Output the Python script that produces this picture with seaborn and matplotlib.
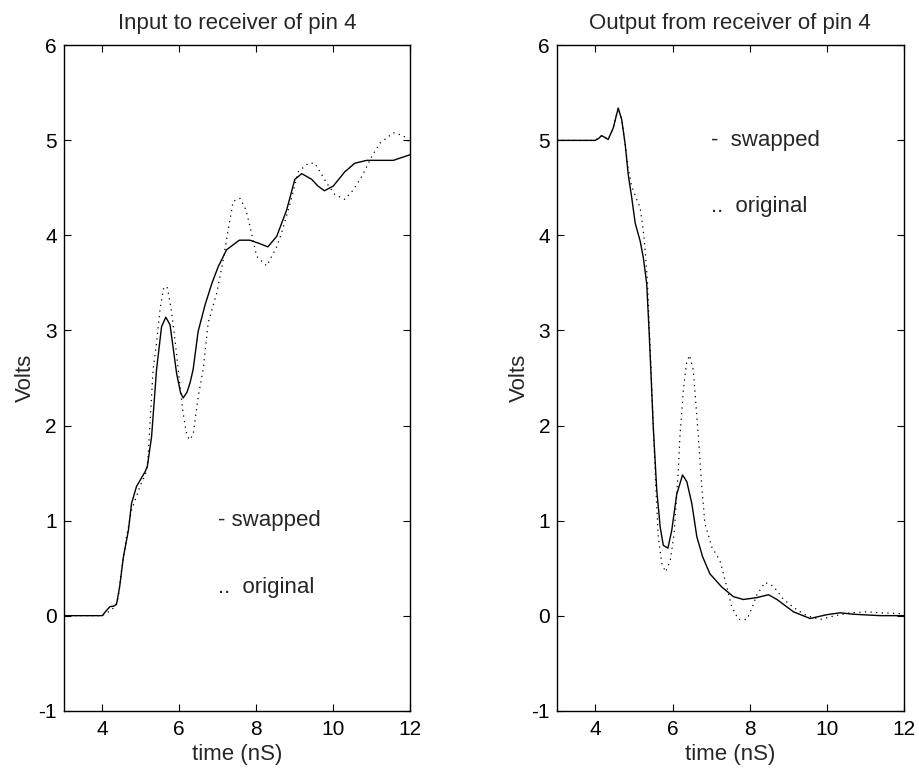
import matplotlib
matplotlib.use("Agg")
import matplotlib.pyplot as plt
import seaborn as sns

# ---- data ----
in_swapped_t = [3.0, 4.0, 4.1, 4.2, 4.3, 4.37, 4.45, 4.55, 4.68, 4.76, 4.89, 5.02, 5.12, 5.17, 5.28,
                5.41, 5.54, 5.65, 5.76, 5.93, 6.03, 6.10, 6.2, 6.28, 6.36, 6.49, 6.67, 6.85, 7.01,
                7.23, 7.56, 7.83, 8.05, 8.30, 8.53, 8.79, 9.0, 9.18, 9.44, 9.6, 9.77, 10.0, 10.30,
                10.56, 10.87, 11.2, 11.56, 12.0]
in_swapped_v = [0.0, 0.0, 0.05, 0.095, 0.1, 0.12, 0.3, 0.62, 0.9, 1.18, 1.36, 1.45, 1.52, 1.57, 1.88,
                2.59, 3.04, 3.14, 3.06, 2.55, 2.35, 2.29, 2.35, 2.45, 2.59, 2.99, 3.27, 3.5, 3.67,
                3.85, 3.95, 3.95, 3.92, 3.88, 3.99, 4.27, 4.59, 4.65, 4.59, 4.52, 4.47, 4.52, 4.67,
                4.76, 4.79, 4.79, 4.79, 4.85]

in_original_t = [3.0, 4.0, 4.2, 4.35, 4.42, 4.5, 4.63, 4.76, 4.98, 5.13, 5.18, 5.32, 5.41, 5.5, 5.60,
                 5.69, 5.78, 5.89, 5.97, 6.1, 6.18, 6.26, 6.36, 6.49, 6.62, 6.75, 6.97, 7.14, 7.27,
                 7.40, 7.58, 7.73, 7.84, 8.01, 8.27, 8.53, 8.66, 8.88, 9.09, 9.35, 9.52, 9.83, 10.04,
                 10.30, 10.52, 10.74, 11.0, 11.21, 11.56, 11.82, 12.0]
in_original_v = [0.0, 0.0, 0.05, 0.1, 0.2, 0.48, 0.83, 1.11, 1.36, 1.5, 1.6, 2.59, 2.87, 3.22, 3.46,
                 3.45, 3.25, 2.90, 2.59, 2.13, 1.93, 1.85, 1.9, 2.3, 2.59, 3.08, 3.39, 3.74, 4.06,
                 4.36, 4.39, 4.27, 4.09, 3.78, 3.68, 3.88, 4.03, 4.34, 4.67, 4.76, 4.76, 4.55, 4.43,
                 4.38, 4.48, 4.62, 4.83, 4.97, 5.08, 5.05, 4.97]

out_swapped_t = [3.0, 3.99, 4.08, 4.16, 4.25, 4.33, 4.46, 4.59, 4.68, 4.77, 4.85, 4.94, 5.03, 5.16,
                 5.24, 5.33, 5.39, 5.44, 5.50, 5.59, 5.68, 5.76, 5.88, 5.98, 6.11, 6.26, 6.37, 6.50,
                 6.63, 6.78, 6.97, 7.28, 7.58, 7.84, 8.19, 8.49, 8.71, 9.14, 9.57, 10.0, 10.35,
                 10.69, 11.39, 12.0]
out_swapped_v = [5.0, 5.0, 5.02, 5.05, 5.03, 5.01, 5.13, 5.34, 5.22, 4.96, 4.64, 4.40, 4.13, 3.94,
                 3.77, 3.49, 3.0, 2.55, 1.98, 1.32, 0.93, 0.74, 0.71, 0.90, 1.28, 1.48, 1.41, 1.18,
                 0.83, 0.62, 0.44, 0.30, 0.20, 0.17, 0.19, 0.22, 0.17, 0.04, -0.03, 0.01, 0.03,
                 0.015, 0.0, 0.0]

out_original_t = [3.0, 3.99, 4.16, 4.33, 4.46, 4.59, 4.68, 4.77, 4.85, 4.94, 5.03, 5.16, 5.24, 5.29,
                  5.35, 5.40, 5.45, 5.5, 5.56, 5.63, 5.72, 5.82, 5.94, 6.04, 6.15, 6.19, 6.28, 6.36,
                  6.44, 6.54, 6.67, 6.76, 6.84, 7.02, 7.23, 7.41, 7.54, 7.71, 7.93, 8.06, 8.19, 8.40,
                  8.62, 8.88, 9.23, 9.49, 9.83, 10.22, 10.61, 11.04, 11.4, 12.0]
out_original_v = [5.0, 5.0, 5.05, 5.01, 5.13, 5.34, 5.22, 4.96, 4.7, 4.52, 4.42, 4.29, 4.05, 3.84,
                  3.5, 3.0, 2.5, 2.0, 1.4, 0.83, 0.55, 0.46, 0.58, 0.86, 1.53, 1.88, 2.37, 2.65,
                  2.74, 2.58, 1.88, 1.35, 0.97, 0.72, 0.58, 0.30, 0.09, -0.04, -0.04, 0.08, 0.22, 0.35,
                  0.31, 0.17, 0.06, 0.0, -0.04, 0.0, 0.03, 0.04, 0.03, 0.02]

titles = ["Input to receiver of pin 4", "Output from receiver of pin 4"]
x_ticks = [4, 6, 8, 10, 12]
y_ticks = [-1, 0, 1, 2, 3, 4, 5, 6]
x_label = "time (nS)"
y_label = "Volts"
notes_left = ["- swapped", "..  original"]
notes_right = ["-  swapped", "..  original"]

# ---- style ----
sns.set_style("white")
plt.rcParams['font.family'] = ['Liberation Sans', 'DejaVu Sans']
FS = 16
TFS = 15

fig = plt.figure(figsize=(9.2, 7.71), dpi=100)
ax1 = fig.add_axes([0.0693, 0.0782, 0.3767, 0.863])
ax2 = fig.add_axes([0.6054, 0.0782, 0.3769, 0.863])

dot_style = (0, (1, 3.5))

panels = [
    (ax1, in_swapped_t, in_swapped_v, in_original_t, in_original_v, notes_left, (7, 1.0), (7, 0.3)),
    (ax2, out_swapped_t, out_swapped_v, out_original_t, out_original_v, notes_right, (7, 5.0), (7, 4.3)),
]

for i, (ax, st, sv, ot, ov, notes, p1, p2) in enumerate(panels):
    sns.lineplot(x=st, y=sv, ax=ax, color="black", linewidth=1.0, estimator=None, sort=False)
    sns.lineplot(x=ot, y=ov, ax=ax, color="black", linewidth=0.9, estimator=None, sort=False,
                 linestyle=dot_style)
    ax.set_xlim(3, 12)
    ax.set_ylim(-1, 6)
    ax.set_xticks(x_ticks)
    ax.set_yticks(y_ticks)
    ax.set_xticklabels([str(v) for v in x_ticks], fontsize=TFS)
    ax.set_yticklabels([str(v) for v in y_ticks], fontsize=TFS)
    ax.tick_params(direction="in", length=5, width=0.8, top=True, right=True,
                   bottom=True, left=True, colors="black")
    ax.tick_params(axis="x", pad=7)
    ax.tick_params(axis="y", pad=5)
    for s in ax.spines.values():
        s.set_visible(True)
        s.set_linewidth(1.0)
        s.set_color("black")
    ax.set_title(titles[i], fontsize=FS, pad=12)
    ax.set_xlabel(x_label, fontsize=FS, labelpad=3)
    ax.set_ylabel(y_label, fontsize=FS, labelpad=1.5)
    ax.text(p1[0], p1[1], notes[0], fontsize=FS, ha="left", va="center")
    ax.text(p2[0], p2[1], notes[1], fontsize=FS, ha="left", va="center")
    ax.grid(False)

fig.savefig("out.png", dpi=100, facecolor="white")
